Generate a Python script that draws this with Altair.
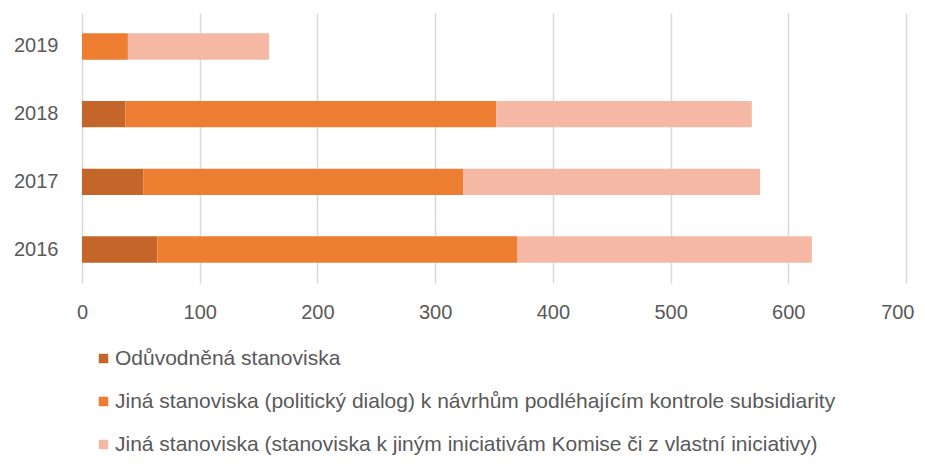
import altair as alt
import pandas as pd

years = ["2019", "2018", "2017", "2016"]
series = [
    "Odůvodněná stanoviska",
    "Jiná stanoviska (politický dialog) k návrhům podléhajícím kontrole subsidiarity",
    "Jiná stanoviska (stanoviska k jiným iniciativám Komise či z vlastní iniciativy)",
]
reasoned = [0, 37, 52, 64]
political = [39, 315, 272, 306]
other = [120, 217, 252, 250]
x_ticks = [0, 100, 200, 300, 400, 500, 600, 700]
colors = ["#C4662A", "#ED7D31", "#F4B8A4"]

rows = []
for i, y in enumerate(years):
    for k, vals in enumerate([reasoned, political, other]):
        rows.append({"year": y, "series": series[k], "order": k, "value": vals[i]})
df = pd.DataFrame(rows)

font = "Liberation Sans"

chart = alt.Chart(df).mark_bar().encode(
    y=alt.Y("year:N", sort=years, title=None,
            scale=alt.Scale(paddingInner=0.61, paddingOuter=0.3),
            axis=alt.Axis(ticks=False, domain=False, labelPadding=24,
                          labelFontSize=20, labelColor="#595959", labelFont=font)),
    x=alt.X("value:Q", title=None, stack="zero",
            scale=alt.Scale(domain=[0, 700], nice=False),
            axis=alt.Axis(values=x_ticks, ticks=False, labelFlush=False,
                          labelAlign=alt.expr("datum.value == 700 ? 'right' : 'center'"),
                          labelOffset=alt.expr("datum.value == 700 ? 8 : 0"),
                          domain=False, grid=True, gridColor="#D9D9D9", gridWidth=1.5,
                          labelPadding=19, labelFontSize=20, labelColor="#595959",
                          labelFont=font)),
    color=alt.Color("series:N", sort=series,
                    scale=alt.Scale(domain=series, range=colors),
                    legend=alt.Legend(title=None, orient="none", legendX=11, legendY=335,
                                      direction="vertical", symbolType="square",
                                      symbolSize=90, symbolStrokeWidth=0,
                                      labelFontSize=21, labelColor="#595959",
                                      labelFont=font, rowPadding=21, labelLimit=900,
                                      labelOffset=1)),
    order=alt.Order("order:Q"),
).properties(
    width=824, height=270,
    autosize=alt.AutoSizeParams(type="none"),
    padding={"left": 74, "top": 5, "right": 8, "bottom": 172},
).configure_view(stroke=None)

chart.save("out.html", embed_options={"renderer": "svg", "actions": False})
